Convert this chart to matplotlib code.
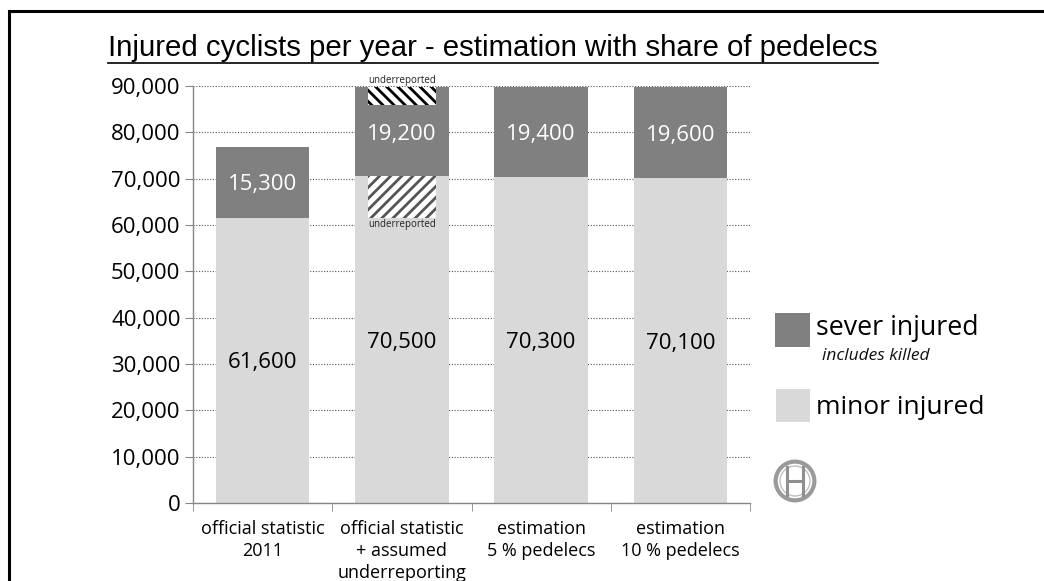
import matplotlib
matplotlib.use("Agg")
import matplotlib.pyplot as plt
from matplotlib.patches import Rectangle, Circle
from matplotlib.lines import Line2D

plt.rcParams['hatch.linewidth'] = 2.0

categories = ["official statistic\n2011", "official statistic\n+ assumed\nunderreporting",
              "estimation\n5 % pedelecs", "estimation\n10 % pedelecs"]
minor = [61600, 70500, 70300, 70100]
severe = [15300, 19200, 19400, 19600]
minor_labels = ["61,600", "70,500", "70,300", "70,100"]
severe_labels = ["15,300", "19,200", "19,400", "19,600"]
yticks = [0, 10000, 20000, 30000, 40000, 50000, 60000, 70000, 80000, 90000]
ytick_labels = ["0", "10,000", "20,000", "30,000", "40,000", "50,000", "60,000", "70,000", "80,000", "90,000"]
# underreported parts shown in bar 2
under_minor = minor[1] - minor[0]
under_severe = severe[1] - severe[0]

FONT = ['Open Sans', 'DejaVu Sans']
TFONT = ['Liberation Sans Narrow', 'Liberation Sans', 'DejaVu Sans']
dark = '#808080'
light = '#d9d9d9'

fig = plt.figure(figsize=(10.44, 5.81), dpi=100)
ax = fig.add_axes([193/1044, 1 - 503/581, 557/1044, 417/581])

x = list(range(len(categories)))
w = 0.67
ax.bar(x, minor, width=w, color=light, zorder=2)
ax.bar(x, severe, width=w, bottom=minor, color=dark, zorder=2)

# hatched underreported segments in bar 2
hw = 0.49
ax.bar([1], [under_minor], width=hw, bottom=[minor[0]], facecolor='white',
       edgecolor='#555555', hatch='///', linewidth=0, zorder=3)
ax.bar([1], [under_severe], width=hw, bottom=[minor[1] + severe[0]], facecolor='white',
       edgecolor='black', hatch='\\\\\\', linewidth=0, zorder=3)
ax.text(1, minor[0] - 300, "underreported", ha='center', va='top', fontsize=7,
        family=FONT, color='#222222', zorder=4)
ax.text(1, minor[1] + severe[1] + 200, "underreported", ha='center', va='bottom', fontsize=7,
        family=FONT, color='#222222', zorder=4, clip_on=False)

for i in x:
    ax.text(i, minor[i] / 2, minor_labels[i], ha='center', va='center_baseline', fontsize=16,
            family=FONT, color='black', zorder=4)
    ax.text(i, minor[i] + severe[i] / 2, severe_labels[i], ha='center', va='center_baseline',
            fontsize=16, family=FONT, color='white', zorder=4)

ax.set_xlim(-0.5, 3.5)
ax.set_ylim(0, 90000)
ax.set_yticks(yticks)
ax.set_yticklabels(ytick_labels, family=FONT, fontsize=16)
ax.set_xticks(x)
ax.set_xticklabels(categories, family=FONT, fontsize=13, linespacing=1.3)
ax.set_xticks([-0.5, 0.5, 1.5, 2.5, 3.5], minor=True)
ax.tick_params(axis='x', which='major', length=0, pad=12)
ax.tick_params(axis='x', which='minor', length=6, color='#868686', direction='out')
ax.tick_params(axis='y', length=6, color='#868686', direction='out', pad=3)
ax.yaxis.grid(True, linestyle=(0, (1, 1.5)), color='#555555', linewidth=0.8, zorder=0)
ax.set_axisbelow(True)
for s in ['top', 'right']:
    ax.spines[s].set_visible(False)
for s in ['left', 'bottom']:
    ax.spines[s].set_color('#868686')
    ax.spines[s].set_linewidth(1.0)

# title with underline
t = fig.text(108/1044, 1 - 48/581, "Injured cyclists per year - estimation with share of pedelecs",
             ha='left', va='center', fontsize=21.2, family=TFONT, color='black')
fig.canvas.draw()
bb = t.get_window_extent()
fig.add_artist(Line2D([bb.x0/1044, bb.x1/1044], [(bb.y0 - 1)/581, (bb.y0 - 1)/581],
                      transform=fig.transFigure, color='black', linewidth=1.2))

# legend
fig.add_artist(Rectangle((775/1044, 1 - 347/581), 35/1044, 34/581, transform=fig.transFigure,
                         facecolor=dark, edgecolor='none'))
fig.add_artist(Rectangle((776/1044, 1 - 422/581), 34/1044, 33/581, transform=fig.transFigure,
                         facecolor=light, edgecolor='none'))
fig.text(816/1044, 1 - 328/581, "sever injured", fontsize=19.3, family=FONT, va='center', ha='left')
fig.text(822/1044, 1 - 356/581, "includes killed", fontsize=12.5, family=FONT, style='italic',
         va='center', ha='left', color='#111111')
fig.text(816/1044, 1 - 408/581, "minor injured", fontsize=19, family=FONT, va='center', ha='left')

# simple logo ring
cx, cy, r = 795, 481, 22
ax_logo = fig.add_axes([(cx - r)/1044, 1 - (cy + r)/581, 2*r/1044, 2*r/581])
ax_logo.set_xlim(-1, 1); ax_logo.set_ylim(-1, 1); ax_logo.set_aspect('equal'); ax_logo.axis('off')
ax_logo.add_patch(Circle((0, 0), 0.88, facecolor='white', edgecolor='#9a9a9a', linewidth=3))
ax_logo.add_patch(Circle((0, 0), 0.68, facecolor='none', edgecolor='#c0c0c0', linewidth=1))
ax_logo.plot([-0.38, -0.38], [-0.62, 0.62], color='#8f8f8f', lw=2.2)
ax_logo.plot([0.38, 0.38], [-0.62, 0.62], color='#8f8f8f', lw=2.2)
ax_logo.plot([-0.38, 0.38], [0, 0], color='#8f8f8f', lw=2.2)

# outer frame
fig.add_artist(Rectangle((9/1044, -0.1), 1.2, 1 - 11/581 + 0.1, transform=fig.transFigure,
                         facecolor='none', edgecolor='black', linewidth=2.2))

fig.savefig("out.png", dpi=100)
